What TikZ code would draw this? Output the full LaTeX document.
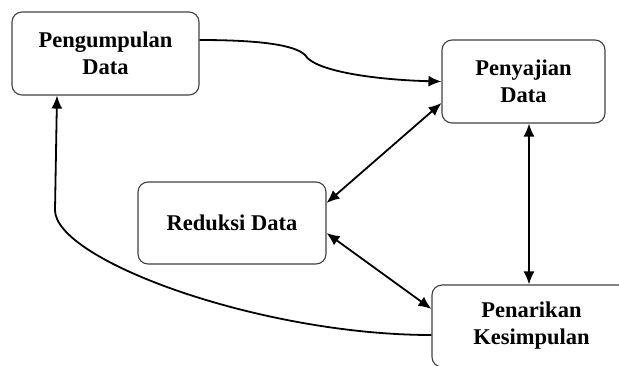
\documentclass[tikz,border=0pt]{standalone}
\usepackage{fontspec}
\newfontfamily\boxfont{Liberation Serif}[BoldFont={Liberation Serif Bold}]
\usetikzlibrary{arrows.meta,calc}
\begin{document}
\begin{tikzpicture}[x=1pt,y=-1pt,
  box/.style={draw=black!75,line width=1.1pt,rounded corners=10pt,align=center,
    font=\boxfont\bfseries\fontsize{22.5}{27}\selectfont,inner sep=0pt},
  conn/.style={line width=1.8pt,black},
  tip/.style={-{Latex[length=13pt,width=11pt]}},
  dtip/.style={{Latex[length=13pt,width=11pt]}-{Latex[length=13pt,width=11pt]}}]
\useasboundingbox (0,0) rectangle (619,365);
\clip (0,0) rectangle (619,365);
\node[box,minimum width=187pt,minimum height=83pt] (b1) at (105.5,53.5) {Pengumpulan\\Data};
\node[box,minimum width=163pt,minimum height=83pt] (b2) at (523.5,81.5) {Penyajian\\Data};
\node[box,minimum width=188pt,minimum height=82pt] (b3) at (232,223) {Reduksi Data};
\node[box,minimum width=199pt,minimum height=82pt] (b4) at (531.5,326) {Penarikan\\Kesimpulan};
\draw[conn,tip] ([yshift=13.5pt]b1.east) .. controls (260,40) and (295,45) .. (305,55)
  .. controls (315,72) and (380,80) .. (b2.west);
\draw[conn,dtip] ([yshift=-21.5pt]b2.west) -- ([yshift=20pt]b3.east);
\draw[conn,dtip] ([yshift=-10pt]b3.east) -- ([yshift=17pt]b4.west);
\draw[conn,dtip] ([xshift=5.5pt]b2.south) -- ([xshift=-2.5pt]b4.north);
\draw[conn,tip] ([yshift=-9pt]b4.west) .. controls (260,335) and (55,260) .. (55,210)
  -- ([xshift=-48.5pt]b1.south);
\end{tikzpicture}
\end{document}
